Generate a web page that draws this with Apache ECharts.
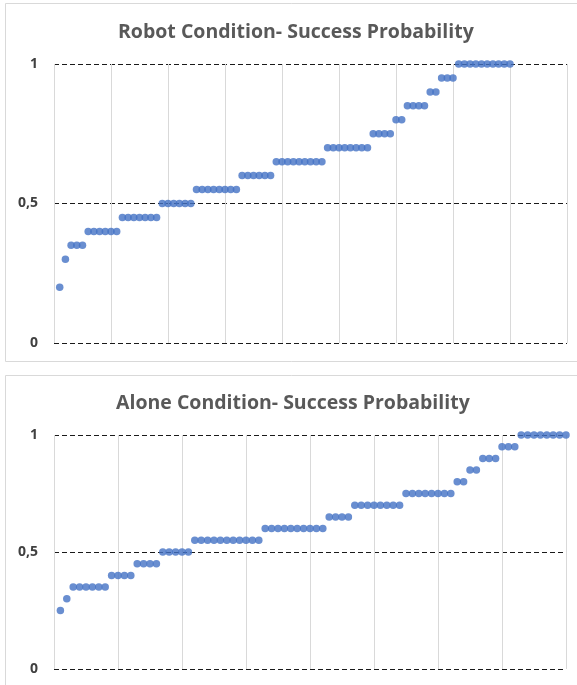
<!DOCTYPE html>
<html>
<head>
<meta charset="utf-8">
<script src="https://cdn.jsdelivr.net/npm/echarts@6/dist/echarts.min.js"></script>
<style>
    html, body { margin: 0; padding: 0; background: #fff; }
    #main { width: 577px; height: 685px; }
</style>
</head>
<body>
<div id="main"></div>
<script>
    // success probability per participant, sorted
    var robotValues = [
        0.2, 0.3, 0.35, 0.35, 0.35,
        0.4, 0.4, 0.4, 0.4, 0.4, 0.4,
        0.45, 0.45, 0.45, 0.45, 0.45, 0.45, 0.45,
        0.5, 0.5, 0.5, 0.5, 0.5, 0.5,
        0.55, 0.55, 0.55, 0.55, 0.55, 0.55, 0.55, 0.55,
        0.6, 0.6, 0.6, 0.6, 0.6, 0.6,
        0.65, 0.65, 0.65, 0.65, 0.65, 0.65, 0.65, 0.65, 0.65,
        0.7, 0.7, 0.7, 0.7, 0.7, 0.7, 0.7, 0.7,
        0.75, 0.75, 0.75, 0.75,
        0.8, 0.8,
        0.85, 0.85, 0.85, 0.85,
        0.9, 0.9,
        0.95, 0.95, 0.95,
        1, 1, 1, 1, 1, 1, 1, 1, 1, 1
    ];
    var aloneValues = [
        0.25, 0.3,
        0.35, 0.35, 0.35, 0.35, 0.35, 0.35,
        0.4, 0.4, 0.4, 0.4,
        0.45, 0.45, 0.45, 0.45,
        0.5, 0.5, 0.5, 0.5, 0.5,
        0.55, 0.55, 0.55, 0.55, 0.55, 0.55, 0.55, 0.55, 0.55, 0.55, 0.55,
        0.6, 0.6, 0.6, 0.6, 0.6, 0.6, 0.6, 0.6, 0.6, 0.6,
        0.65, 0.65, 0.65, 0.65,
        0.7, 0.7, 0.7, 0.7, 0.7, 0.7, 0.7, 0.7,
        0.75, 0.75, 0.75, 0.75, 0.75, 0.75, 0.75, 0.75,
        0.8, 0.8,
        0.85, 0.85,
        0.9, 0.9, 0.9,
        0.95, 0.95, 0.95,
        1, 1, 1, 1, 1, 1, 1, 1
    ];
    var titles = ['Robot Condition- Success Probability', 'Alone Condition- Success Probability'];
    var xMax = [90, 80];

    function toPoints(values) {
        var res = [];
        for (var i = 0; i < values.length; i++) {
            res.push([i + 1, values[i]]);
        }
        return res;
    }

    var myChart = echarts.init(document.getElementById('main'));

    var xAxisBase = {
        type: 'value',
        min: 0,
        interval: 10,
        axisLine: {show: false},
        axisTick: {show: false},
        axisLabel: {show: false},
        splitLine: {show: true, lineStyle: {color: '#d9d9d9', width: 1}}
    };
    var yAxisBase = {
        type: 'value',
        min: 0,
        max: 1,
        interval: 0.5,
        axisLine: {show: false},
        axisTick: {show: false},
        axisLabel: {
            color: '#404040',
            fontSize: 14,
            fontWeight: 'bold',
            fontFamily: 'Open Sans',
            margin: 16,
            formatter: function (v) { return String(v).replace('.', ','); }
        },
        splitLine: {show: true, lineStyle: {color: '#1a1a1a', width: 1, type: [5, 3]}}
    };
    var titleBase = {
        textStyle: {color: '#595959', fontSize: 19.5, fontWeight: 'bold', fontFamily: 'Open Sans'}
    };

    var option = {
        animation: false,
        backgroundColor: '#fff',
        graphic: [
            {type: 'rect', shape: {x: 5.5, y: 3.5, width: 600, height: 358}, style: {fill: 'none', stroke: '#d9d9d9', lineWidth: 1}},
            {type: 'rect', shape: {x: 5.5, y: 375.5, width: 600, height: 340}, style: {fill: 'none', stroke: '#d9d9d9', lineWidth: 1}}
        ],
        title: [
            Object.assign({}, titleBase, {text: titles[0], left: 113, top: 17}),
            Object.assign({}, titleBase, {text: titles[1], left: 111, top: 388})
        ],
        grid: [
            {left: 54, top: 64, width: 513, height: 279},
            {left: 54, top: 435, width: 512, height: 234}
        ],
        xAxis: [
            Object.assign({}, xAxisBase, {gridIndex: 0, max: xMax[0]}),
            Object.assign({}, xAxisBase, {gridIndex: 1, max: xMax[1]})
        ],
        yAxis: [
            Object.assign({}, yAxisBase, {gridIndex: 0}),
            Object.assign({}, yAxisBase, {gridIndex: 1})
        ],
        series: [
            {
                name: 'Robot', type: 'scatter', xAxisIndex: 0, yAxisIndex: 0,
                symbolSize: 7.5, itemStyle: {color: '#4472c4'},
                data: toPoints(robotValues)
            },
            {
                name: 'Alone', type: 'scatter', xAxisIndex: 1, yAxisIndex: 1,
                symbolSize: 7.5, itemStyle: {color: '#4472c4'},
                data: toPoints(aloneValues)
            }
        ]
    };
    myChart.setOption(option);
</script>
</body>
</html>
